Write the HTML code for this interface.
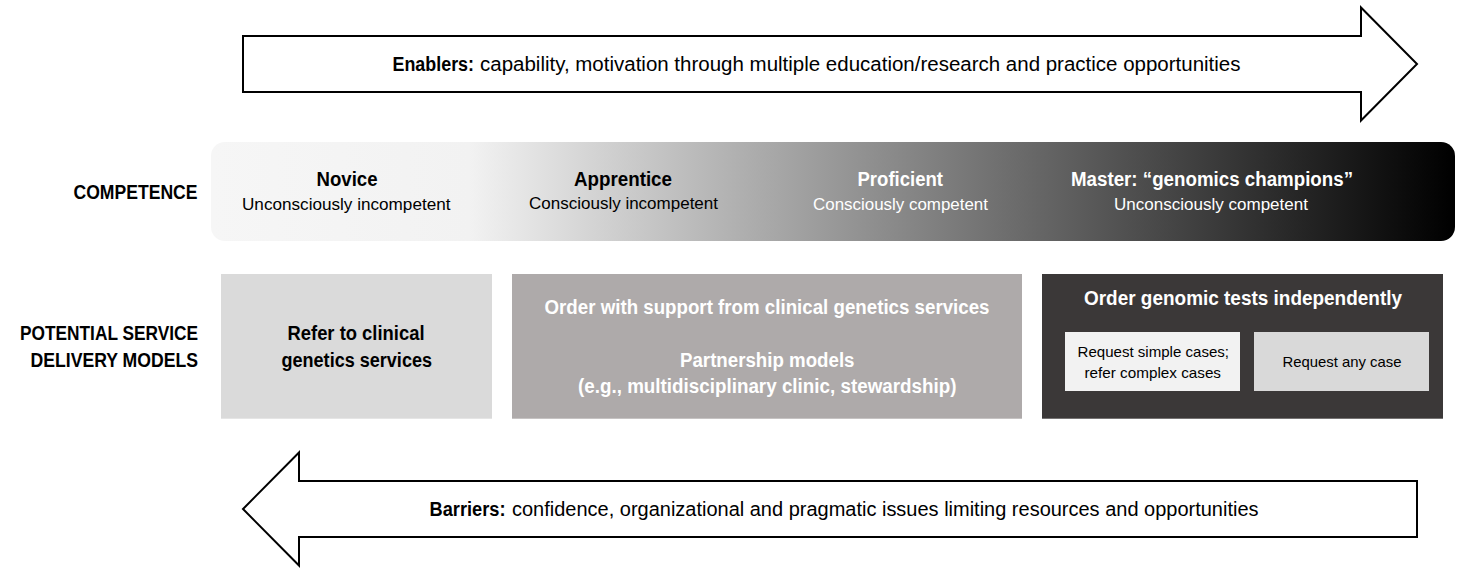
<!DOCTYPE html>
<html>
<head>
<meta charset="utf-8">
<style>
html,body{margin:0;padding:0;background:#fff;}
body{width:1472px;height:576px;overflow:hidden;position:relative;}
svg{position:absolute;left:0;top:0;display:block;}
text{font-family:"Liberation Sans",sans-serif;}
.b{font-weight:bold;}
.s16{font-size:19.5px;}
.s14{font-size:17px;}
.s12{font-size:14.5px;}
</style>
</head>
<body>
<svg width="1472" height="576" viewBox="0 0 1472 576">
<defs>
<linearGradient id="g" x1="211" y1="0" x2="1455" y2="0" gradientUnits="userSpaceOnUse">
<stop offset="0" stop-color="#f6f6f6"/>
<stop offset="0.208" stop-color="#f2f2f2"/>
<stop offset="0.998" stop-color="#000"/>
<stop offset="1" stop-color="#000"/>
</linearGradient>
</defs>
<!-- top arrow -->
<polygon points="243,36 1361,36 1361,7.5 1417,64 1361,120.5 1361,92 243,92" fill="#fff" stroke="#000" stroke-width="2" stroke-linejoin="miter" stroke-miterlimit="10"/>
<!-- bottom arrow -->
<polygon points="1417,481 299,481 299,452.5 243,509 299,565.5 299,537 1417,537" fill="#fff" stroke="#000" stroke-width="2" stroke-linejoin="miter" stroke-miterlimit="10"/>
<!-- competence bar -->
<rect x="211" y="142" width="1244" height="99" rx="14" ry="14" fill="url(#g)"/>
<!-- boxes -->
<rect x="221" y="274" width="271" height="144.7" fill="#dadada"/>
<rect x="512" y="274" width="510" height="144.7" fill="#aeaaaa"/>
<rect x="1042" y="274" width="401" height="144.7" fill="#3b3838"/>
<rect x="1065" y="332" width="175" height="59" fill="#f2f2f2"/>
<rect x="1254" y="332" width="175" height="59" fill="#d9d9d9"/>

<!-- texts -->
<text class="s16 b" x="392.50" y="70.80" textLength="81.50" lengthAdjust="spacingAndGlyphs" fill="#000">Enablers:</text>
<text class="s16" x="480.00" y="70.80" textLength="760.50" lengthAdjust="spacingAndGlyphs" fill="#000">capability, motivation through multiple education/research and practice opportunities</text>
<text class="s16 b" x="73.50" y="198.80" textLength="124.00" lengthAdjust="spacingAndGlyphs" fill="#000">COMPETENCE</text>
<text class="s16 b" x="316.50" y="186.10" textLength="61.00" lengthAdjust="spacingAndGlyphs" fill="#000">Novice</text>
<text class="s14" x="242.00" y="209.80" textLength="208.50" lengthAdjust="spacingAndGlyphs" fill="#000">Unconsciously incompetent</text>
<text class="s16 b" x="574.00" y="185.70" textLength="98.00" lengthAdjust="spacingAndGlyphs" fill="#000">Apprentice</text>
<text class="s14" x="529.00" y="209.20" textLength="189.00" lengthAdjust="spacingAndGlyphs" fill="#000">Consciously incompetent</text>
<text class="s16 b" x="857.50" y="186.00" textLength="85.50" lengthAdjust="spacingAndGlyphs" fill="#fff">Proficient</text>
<text class="s14" x="813.00" y="209.60" textLength="175.00" lengthAdjust="spacingAndGlyphs" fill="#fff">Consciously competent</text>
<text class="s16 b" x="1071.00" y="185.80" textLength="282.00" lengthAdjust="spacingAndGlyphs" fill="#fff">Master: “genomics champions”</text>
<text class="s14" x="1114.00" y="209.80" textLength="194.00" lengthAdjust="spacingAndGlyphs" fill="#fff">Unconsciously competent</text>
<text class="s16 b" x="20.00" y="339.90" textLength="178.00" lengthAdjust="spacingAndGlyphs" fill="#000">POTENTIAL SERVICE</text>
<text class="s16 b" x="30.50" y="366.60" textLength="167.50" lengthAdjust="spacingAndGlyphs" fill="#000">DELIVERY MODELS</text>
<text class="s16 b" x="287.50" y="339.60" textLength="137.00" lengthAdjust="spacingAndGlyphs" fill="#000">Refer to clinical</text>
<text class="s16 b" x="281.50" y="366.90" textLength="150.50" lengthAdjust="spacingAndGlyphs" fill="#000">genetics services</text>
<text class="s16 b" x="544.50" y="313.90" textLength="445.00" lengthAdjust="spacingAndGlyphs" fill="#fff">Order with support from clinical genetics services</text>
<text class="s16 b" x="680.00" y="366.60" textLength="174.50" lengthAdjust="spacingAndGlyphs" fill="#fff">Partnership models</text>
<text class="s16 b" x="578.00" y="392.60" textLength="378.50" lengthAdjust="spacingAndGlyphs" fill="#fff">(e.g., multidisciplinary clinic, stewardship)</text>
<text class="s16 b" x="1084.00" y="304.80" textLength="318.00" lengthAdjust="spacingAndGlyphs" fill="#fff">Order genomic tests independently</text>
<text class="s12" x="1077.50" y="356.80" textLength="151.50" lengthAdjust="spacingAndGlyphs" fill="#000">Request simple cases;</text>
<text class="s12" x="1084.50" y="377.50" textLength="136.50" lengthAdjust="spacingAndGlyphs" fill="#000">refer complex cases</text>
<text class="s12" x="1282.50" y="366.80" textLength="119.00" lengthAdjust="spacingAndGlyphs" fill="#000">Request any case</text>
<text class="s16 b" x="429.50" y="515.80" textLength="76.00" lengthAdjust="spacingAndGlyphs" fill="#000">Barriers:</text>
<text class="s16" x="512.00" y="515.80" textLength="746.50" lengthAdjust="spacingAndGlyphs" fill="#000">confidence, organizational and pragmatic issues limiting resources and opportunities</text>
</svg>
</body>
</html>
